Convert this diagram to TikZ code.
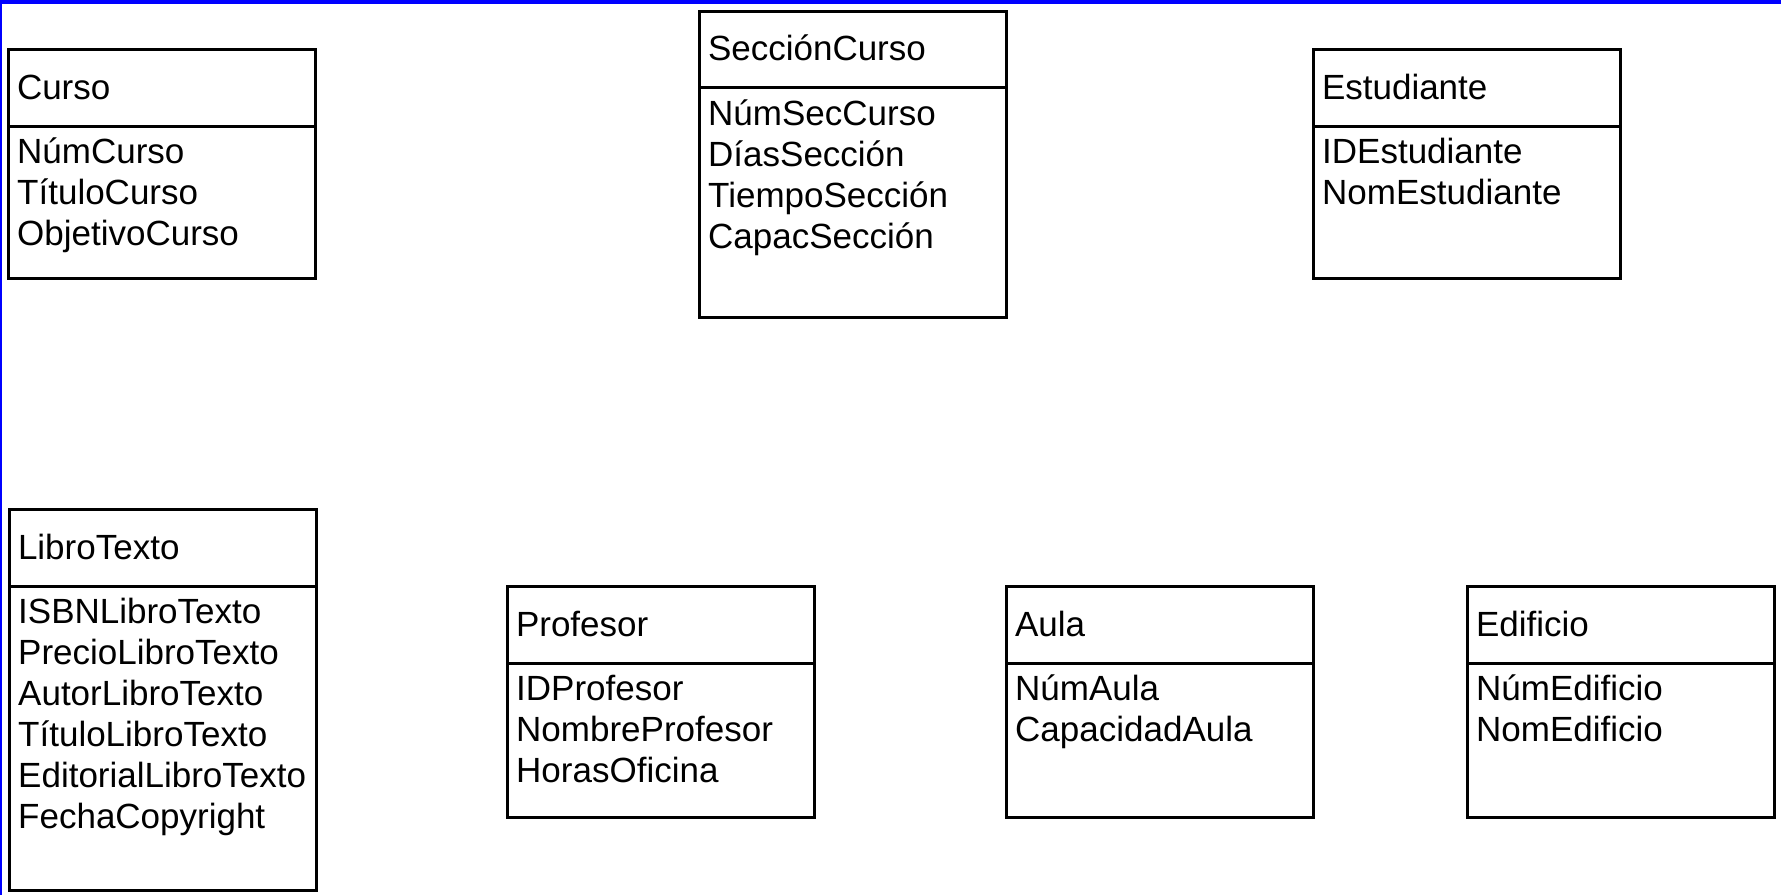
\documentclass[tikz,border=0pt]{standalone}
\usepackage{fontspec}
\setmainfont{Liberation Sans}
\usetikzlibrary{positioning}

\tikzset{
    entidad/.style={draw, line width=3pt, minimum width=307pt, outer sep=0pt, inner sep=0pt},
    cabecera/.style={entidad, minimum height=77pt, text width=289pt, align=left, text height=23pt, text depth=0pt},
    cuerpo/.style={entidad},
    atributos/.style={anchor=base west, inner sep=0pt, text width=297pt, align=left},
}

\begin{document}
\begin{tikzpicture}[x=1pt, y=-1pt, font=\fontsize{35}{41}\selectfont]
    \useasboundingbox (0,0) rectangle (1781,895);
    % blue frame on top and left
    \fill[blue] (0,0) rectangle (1781,3.7);
    \fill[blue] (0,0) rectangle (2,895);

    % top row
    \node[cabecera, anchor=north west] (curso) at (8,49) {Curso};
    \node[cuerpo, below=0pt of curso, minimum height=152pt] (cursoB) {};
    \node[atributos] (cursoA) at ([xshift=9pt,yshift=-37pt]cursoB.north west) {NúmCurso\\TítuloCurso\\ObjetivoCurso};

    \node[cabecera, anchor=north west, minimum height=76pt] (seccion) at (699,11) {SecciónCurso};
    \node[cuerpo, below=0pt of seccion, minimum height=230pt] (seccionB) {};
    \node[atributos] (seccionA) at ([xshift=9pt,yshift=-38pt]seccionB.north west) {NúmSecCurso\\DíasSección\\TiempoSección\\CapacSección};

    \node[cabecera, anchor=north west] (estudiante) at (1313,49) {Estudiante};
    \node[cuerpo, below=0pt of estudiante, minimum height=152pt] (estudianteB) {};
    \node[atributos] (estudianteA) at ([xshift=9pt,yshift=-37pt]estudianteB.north west) {IDEstudiante\\NomEstudiante};

    % bottom row
    \node[cabecera, anchor=north west] (libro) at (9,509) {LibroTexto};
    \node[cuerpo, below=0pt of libro, minimum height=304pt] (libroB) {};
    \node[atributos] (libroA) at ([xshift=9pt,yshift=-37pt]libroB.north west) {ISBNLibroTexto\\PrecioLibroTexto\\AutorLibroTexto\\TítuloLibroTexto\\EditorialLibroTexto\\FechaCopyright};

    \node[cabecera, anchor=north west] (profesor) at (507,586) {Profesor};
    \node[cuerpo, below=0pt of profesor, minimum height=154pt] (profesorB) {};
    \node[atributos] (profesorA) at ([xshift=9pt,yshift=-37pt]profesorB.north west) {IDProfesor\\NombreProfesor\\HorasOficina};

    \node[cabecera, anchor=north west] (aula) at (1006,586) {Aula};
    \node[cuerpo, below=0pt of aula, minimum height=154pt] (aulaB) {};
    \node[atributos] (aulaA) at ([xshift=9pt,yshift=-37pt]aulaB.north west) {NúmAula\\CapacidadAula};

    \node[cabecera, anchor=north west] (edificio) at (1467,586) {Edificio};
    \node[cuerpo, below=0pt of edificio, minimum height=154pt] (edificioB) {};
    \node[atributos] (edificioA) at ([xshift=9pt,yshift=-37pt]edificioB.north west) {NúmEdificio\\NomEdificio};
\end{tikzpicture}
\end{document}
